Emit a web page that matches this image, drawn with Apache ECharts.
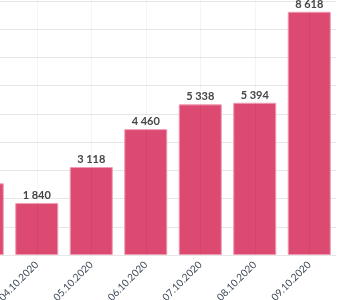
<!DOCTYPE html>
<html>
<head>
<meta charset="utf-8">
<script src="https://cdn.jsdelivr.net/npm/echarts@6/dist/echarts.min.js"></script>
<style>
html,body{margin:0;padding:0;background:#fff;}
#chart{width:348px;height:300px;}
</style>
</head>
<body>
<div id="chart"></div>
<script>
const categories = ['03.10.2020','04.10.2020','05.10.2020','06.10.2020','07.10.2020','08.10.2020','09.10.2020'];
const values = [2540, 1840, 3118, 4460, 5338, 5394, 8618];

const chart = echarts.init(document.getElementById('chart'), null, {renderer:'canvas'});
function fmt(v){ return String(v).replace(/\B(?=(\d{3})+(?!\d))/g, ' '); }
chart.setOption({
  animation: false,
  textStyle: { fontFamily: 'Lato' },
  grid: { left: -45, right: 11.5, top: 1, bottom: 45, containLabel: false, outerBoundsMode: 'none' },
  xAxis: {
    type: 'category',
    data: categories,
    z: 5,
    axisLine: { show: false },
    axisTick: { show: false },
    axisLabel: { rotate: 45, fontSize: 10, color: '#3d4656', margin: 8, fontFamily: 'Lato', hideOverlap: false },
    splitLine: { show: true, alignWithLabel: true, lineStyle: { color: 'rgba(0,0,0,0.045)', width: 1 } }
  },
  yAxis: {
    type: 'value',
    min: 0, max: 9000, interval: 1000,
    axisLabel: { show: false },
    axisLine: { show: false },
    axisTick: { show: false },
    splitLine: { show: true, lineStyle: { color: '#e6e6e6', width: 1 } }
  },
  series: [{
    type: 'bar',
    data: values,
    barWidth: 43,
    itemStyle: { color: '#dc4a72', borderColor: '#ef9ab2', borderWidth: 1 },
    label: {
      show: true, position: 'top', distance: 2,
      fontSize: 11, fontWeight: 'bold', color: '#454545', fontFamily: 'Lato',
      formatter: p => fmt(p.value)
    }
  }]
});
</script>
</body>
</html>
